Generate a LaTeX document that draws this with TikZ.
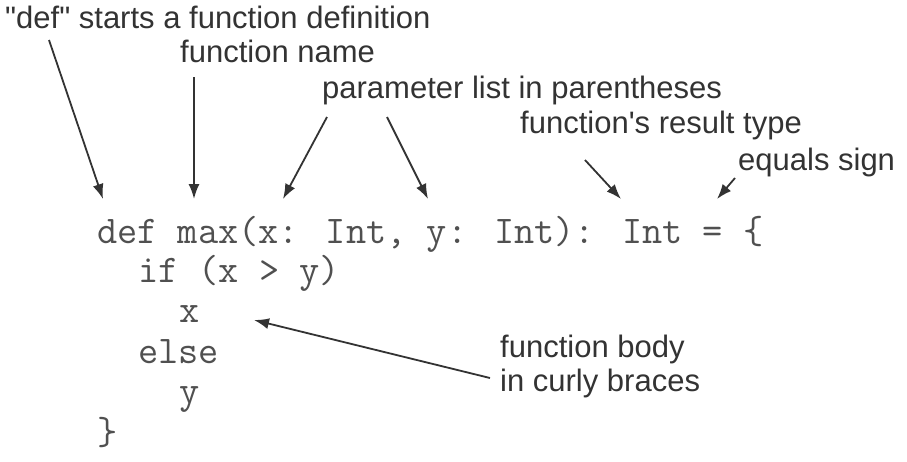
\documentclass[tikz,border=0pt]{standalone}
\usepackage{fontspec}
\newfontfamily\labfont{Liberation Sans}
\usetikzlibrary{arrows.meta}
\definecolor{lbl}{HTML}{333333}
\definecolor{codec}{HTML}{505050}
\begin{document}
\begin{tikzpicture}[x=1pt,y=-1pt,
  lab/.style={inner sep=0pt,anchor=base west,text=lbl,font=\labfont\fontsize{31}{34}\selectfont},
  code/.style={inner sep=0pt,anchor=base west,text=codec,font=\ttfamily\fontsize{39.2}{44}\selectfont},
  pointer/.style={draw=lbl,line width=1.8pt,-{Latex[length=15pt,width=11pt]}}]
\useasboundingbox[fill=white] (0,0) rectangle (907,461);
% labels
\node[lab] (ldef) at (5,28) {"def" starts a function definition};
\node[lab] (lname) at (180,62) {function name};
\node[lab] (lparam) at (322,98) {parameter list in parentheses};
\node[lab] (lres) at (520,133) {function's result type};
\node[lab] (leq) at (738,170) {equals sign};
\node[lab] (lbody1) at (500,357) {function body};
\node[lab] (lbody2) at (500,391) {in curly braces};
% code
\node[code] (c1) at (97,243) {def max(x: Int, y: Int): Int = \{};
\node[code] (c2) at (138,282) {if (x > y)};
\node[code] (c3) at (179,322) {x};
\node[code] (c4) at (138,363) {else};
\node[code] (c5) at (179,403) {y};
\node[code] (c6) at (97,444) {\}};
% arrow ends
\coordinate (s1) at (49,40);   \coordinate (e1) at (103,199);
\coordinate (s2) at (194,77);  \coordinate (e2) at (194,199);
\coordinate (s3) at (327,117); \coordinate (e3) at (283,199);
\coordinate (s4) at (387,117); \coordinate (e4) at (428,199);
\coordinate (s5) at (585,160); \coordinate (e5) at (621,199);
\coordinate (s6) at (735,178); \coordinate (e6) at (717,199);
\coordinate (s7) at (490,378); \coordinate (e7) at (254,320);
\draw[pointer] (s1) -- (e1);
\draw[pointer] (s2) -- (e2);
\draw[pointer] (s3) -- (e3);
\draw[pointer] (s4) -- (e4);
\draw[pointer] (s5) -- (e5);
\draw[pointer] (s6) -- (e6);
\draw[pointer] (s7) -- (e7);
\end{tikzpicture}
\end{document}
